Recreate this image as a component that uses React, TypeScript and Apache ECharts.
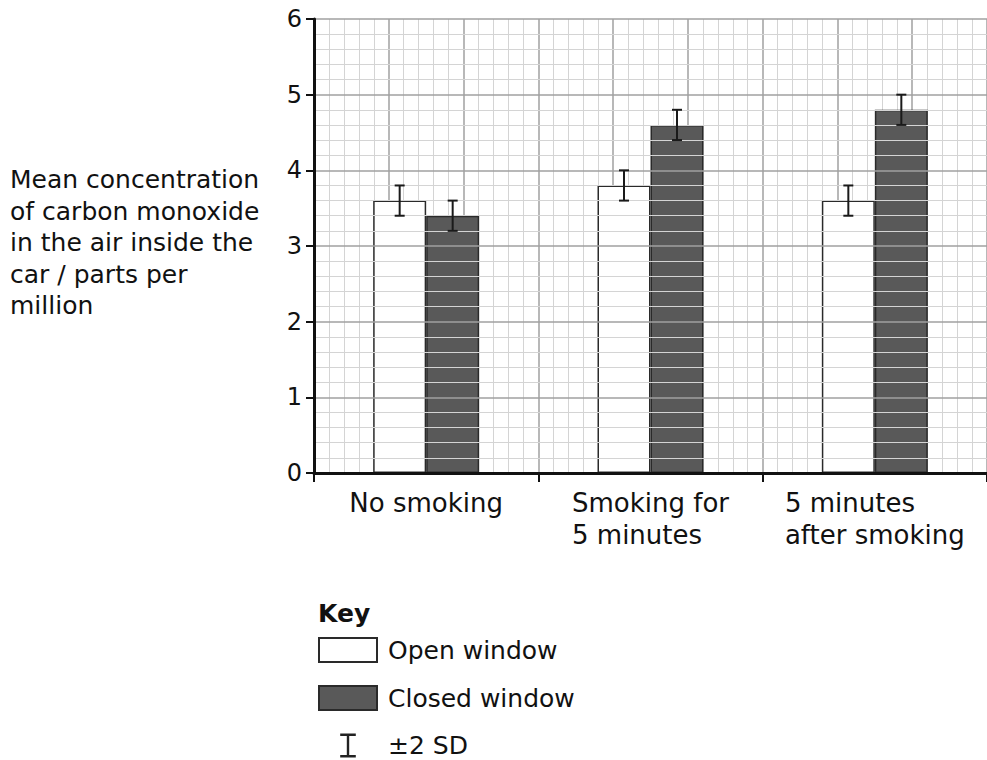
import React, { useEffect, useRef } from "react";
import * as echarts from "echarts";

const categories = ["No smoking", "Smoking for\n5 minutes", "5 minutes\nafter smoking"];
const openWindow = [3.6, 3.8, 3.6];
const closedWindow = [3.4, 4.6, 4.8];
const openSD2 = [0.2, 0.2, 0.2];
const closedSD2 = [0.2, 0.2, 0.2];
const yTicks = [0, 1, 2, 3, 4, 5, 6];
const yTitle = "Mean concentration\nof carbon monoxide\nin the air inside the\ncar / parts per\nmillion";

const FONT = "DejaVu Sans";
const BAR_W = 53;

export default function App() {
  const ref = useRef<HTMLDivElement>(null);
  useEffect(() => {
    if (!ref.current) return;
    const chart = echarts.init(ref.current, null, { renderer: "svg" });
    const errData: number[][] = [];
    openWindow.forEach((v, i) => errData.push([i, v, openSD2[i], 0]));
    closedWindow.forEach((v, i) => errData.push([i, v, closedSD2[i], 1]));

    chart.setOption({
      animation: false,
      backgroundColor: "#ffffff",
      title: [
        {
          text: yTitle,
          left: 10,
          top: 164,
          padding: 0,
          textStyle: { fontFamily: FONT, fontSize: 25, lineHeight: 31.5, fontWeight: "normal", color: "#111" },
        },
        {
          text: "Key",
          left: 318,
          top: 601,
          padding: 0,
          textStyle: { fontFamily: FONT, fontSize: 25, fontWeight: "bold", color: "#111" },
        },
      ],
      legend: {
        orient: "vertical",
        left: 318,
        top: 637,
        height: 160,
        padding: 0,
        itemWidth: 58,
        itemHeight: 24,
        itemGap: 22,
        icon: "rect",
        textStyle: { fontFamily: FONT, fontSize: 25, color: "#111", padding: [0, 0, 0, 6] },
        data: [
          { name: "Open window" },
          { name: "Closed window" },
          {
            name: "±2 SD",
            icon: "path://M0,0H13V2H7.5V18H13V20H0V18H5.5V2H0Z",
            itemStyle: { color: "#222", borderWidth: 0 },
          },
        ],
      },
      grid: { left: 314, top: 19, right: -8, bottom: 287, containLabel: false },
      xAxis: [
        {
          type: "category",
          data: categories,
          boundaryGap: true,
          axisLine: { show: true, lineStyle: { color: "#111", width: 3 } },
          axisTick: { show: true, length: 9, lineStyle: { color: "#111", width: 2 } },
          splitLine: { show: false },
          axisLabel: {
            margin: 14,
            formatter: (v: string) => v.split("\n").map((l) => `{a|${l}}`).join("\n"),
            rich: { a: { align: "left", fontFamily: FONT, fontSize: 26, lineHeight: 32, color: "#111" } },
          },
          z: 5,
        },
        {
          type: "value",
          min: 0,
          max: 45,
          interval: 5,
          position: "bottom",
          axisLine: { show: false },
          axisTick: { show: false },
          axisLabel: { show: false },
          splitLine: { show: true, lineStyle: { color: "#a0a0a0", width: 1.5 } },
          minorTick: { show: false, splitNumber: 5 },
          minorSplitLine: { show: true, lineStyle: { color: "#d4d4d4", width: 1 } },
        },
      ],
      yAxis: {
        type: "value",
        min: 0,
        max: 6,
        interval: 1,
        axisLine: { show: true, lineStyle: { color: "#111", width: 3 } },
        axisTick: { show: true, length: 8, lineStyle: { color: "#111", width: 2 } },
        axisLabel: {
          margin: 12,
          fontFamily: FONT,
          fontSize: 24,
          color: "#111",
          formatter: (v: number) => (yTicks.includes(v) ? String(v) : ""),
        },
        splitLine: { show: true, lineStyle: { color: "#a0a0a0", width: 1.5 } },
        minorTick: { show: false, splitNumber: 5 },
        minorSplitLine: { show: true, lineStyle: { color: "#d4d4d4", width: 1 } },
        z: 5,
      },
      series: [
        {
          name: "Open window",
          type: "bar",
          xAxisIndex: 0,
          data: openWindow,
          barWidth: BAR_W,
          barGap: "0%",
          itemStyle: { color: "#ffffff", borderColor: "#2a2a2a", borderWidth: 1.5 },
        },
        {
          name: "Closed window",
          type: "bar",
          xAxisIndex: 0,
          data: closedWindow,
          barWidth: BAR_W,
          barGap: "0%",
          itemStyle: { color: "#595959", borderColor: "#2a2a2a", borderWidth: 1.5 },
        },
        {
          name: "±2 SD",
          type: "custom",
          xAxisIndex: 0,
          yAxisIndex: 0,
          data: errData,
          encode: { x: 0, y: 1 },
          itemStyle: { color: "#222" },
          z: 10,
          renderItem: (params: any, api: any) => {
            const cat = api.value(0);
            const mean = api.value(1);
            const sd = api.value(2);
            const g = api.value(3);
            const top = api.coord([cat, mean + sd]);
            const bot = api.coord([cat, mean - sd]);
            const x = top[0] + (g === 0 ? -1 : 1) * (BAR_W / 2);
            const cap = 5;
            const style = { stroke: "#1a1a1a", lineWidth: 2, fill: "none" };
            return {
              type: "group",
              children: [
                { type: "line", shape: { x1: x, y1: top[1], x2: x, y2: bot[1] }, style },
                { type: "line", shape: { x1: x - cap, y1: top[1], x2: x + cap, y2: top[1] }, style },
                { type: "line", shape: { x1: x - cap, y1: bot[1], x2: x + cap, y2: bot[1] }, style },
              ],
            };
          },
        },
      ],
    });
    return () => chart.dispose();
  }, []);
  return (
    <div
      ref={ref}
      style={{ position: "absolute", left: 0, top: 0, width: 987, height: 760, background: "#fff" }}
    />
  );
}
